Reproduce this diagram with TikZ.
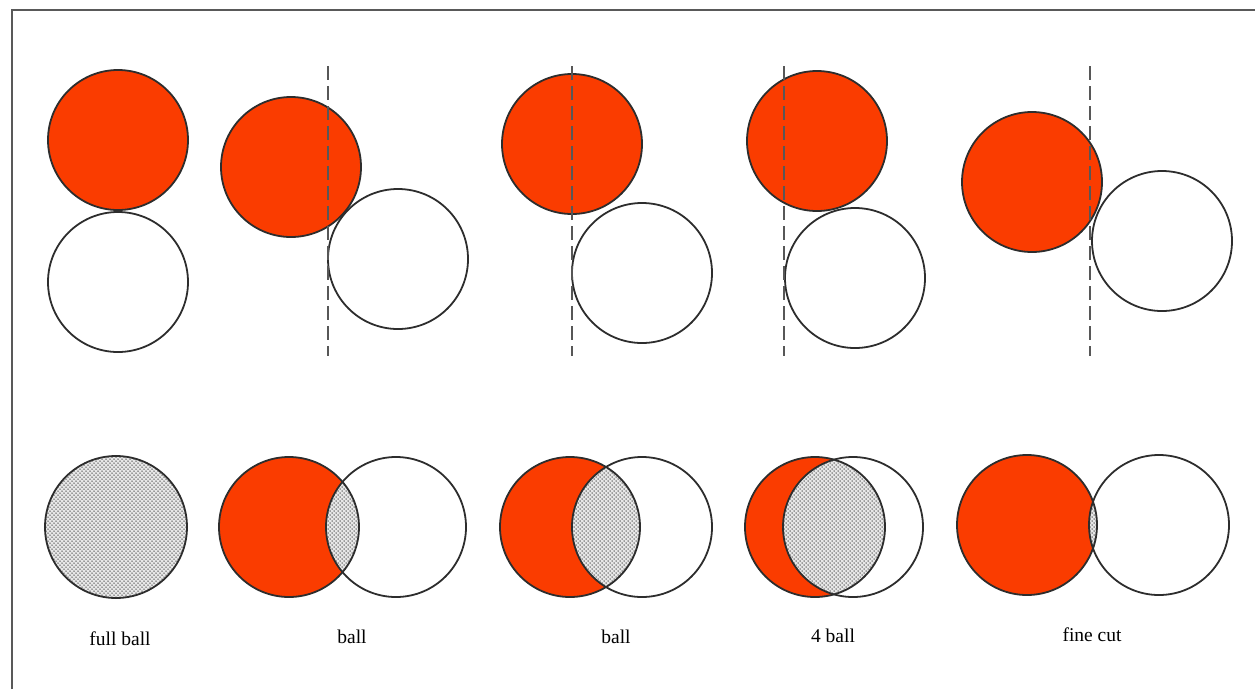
\documentclass[tikz,border=0pt]{standalone}
\usepackage{fontspec}
\setmainfont{Liberation Serif}
\usetikzlibrary{patterns}
\definecolor{ballred}{RGB}{250,60,0}
\definecolor{edge}{RGB}{45,45,45}
\pgfdeclarepatternformonly{bigdots}{\pgfpoint{-1pt}{-1pt}}{\pgfpoint{5pt}{5pt}}{\pgfpoint{4pt}{4pt}}{%
  \pgfpathcircle{\pgfpoint{0pt}{0pt}}{0.75pt}%
  \pgfpathcircle{\pgfpoint{2pt}{2pt}}{0.75pt}%
  \pgfusepath{fill}}
\tikzset{
  redball/.style={fill=ballred, draw=edge, line width=1.8pt},
  whiteball/.style={draw=edge, line width=1.8pt},
  aimline/.style={draw=edge!80, line width=1.1pt, dash pattern=on 14pt off 6pt},
  stipple/.style={fill=gray!18},
  stippledots/.style={pattern=bigdots, pattern color=gray!60!black},
  lbl/.style={font=\fontsize{19.5}{23}\selectfont, inner sep=0pt},
  frameline/.style={draw=gray!70!black, line width=1.2pt}
}
\newcommand{\overlappair}[3]{%
  \fill[ballred] (#1,#3) circle (70);
  \begin{scope}
    \clip (#1,#3) circle (70);
    \fill[stipple] (#2,#3) circle (70);
    \fill[stippledots] (#2,#3) circle (70);
  \end{scope}
  \draw[whiteball] (#1,#3) circle (70);
  \draw[whiteball] (#2,#3) circle (70);
}
\begin{document}
\begin{tikzpicture}[x=1pt,y=-1pt]
\useasboundingbox (0,0) rectangle (1255,689);
% frame
\coordinate (fa) at (12,689);
\coordinate (fb) at (12,10);
\coordinate (fc) at (1255,10);
\draw[frameline] (fa) -- (fb) -- (fc);

% ---------- top row ----------
% 1
\draw[redball] (118,140) circle (70);
\draw[whiteball] (118,282) circle (70);
% 2
\draw[redball] (291,167) circle (70);
\draw[whiteball] (398,259) circle (70);
\coordinate (d1a) at (328,66); \coordinate (d1b) at (328,356);
\draw[aimline] (d1a) -- (d1b);
% 3
\draw[redball] (572,144) circle (70);
\draw[whiteball] (642,273) circle (70);
\coordinate (d2a) at (572,66); \coordinate (d2b) at (572,356);
\draw[aimline] (d2a) -- (d2b);
% 4
\draw[redball] (817,141) circle (70);
\draw[whiteball] (855,278) circle (70);
\coordinate (d3a) at (784,66); \coordinate (d3b) at (784,356);
\draw[aimline] (d3a) -- (d3b);
% 5
\draw[redball] (1032,182) circle (70);
\draw[whiteball] (1162,241) circle (70);
\coordinate (d4a) at (1090,66); \coordinate (d4b) at (1090,356);
\draw[aimline] (d4a) -- (d4b);

% ---------- bottom row ----------
% 1 full ball
\fill[stipple] (116,527) circle (71);
\fill[stippledots] (116,527) circle (71);
\draw[whiteball] (116,527) circle (71);

\overlappair{289}{396}{527}
\overlappair{570}{642}{527}
\overlappair{815}{853}{527}
\overlappair{1027}{1159}{525}

% labels
\node[lbl] (l1) at (120,639) {full ball};
\node[lbl] (l2) at (352,637) {ball};
\node[lbl] (l3) at (616,637) {ball};
\node[lbl] (l4) at (833,636) {4 ball};
\node[lbl] (l5) at (1092,635) {fine cut};
\end{tikzpicture}
\end{document}
